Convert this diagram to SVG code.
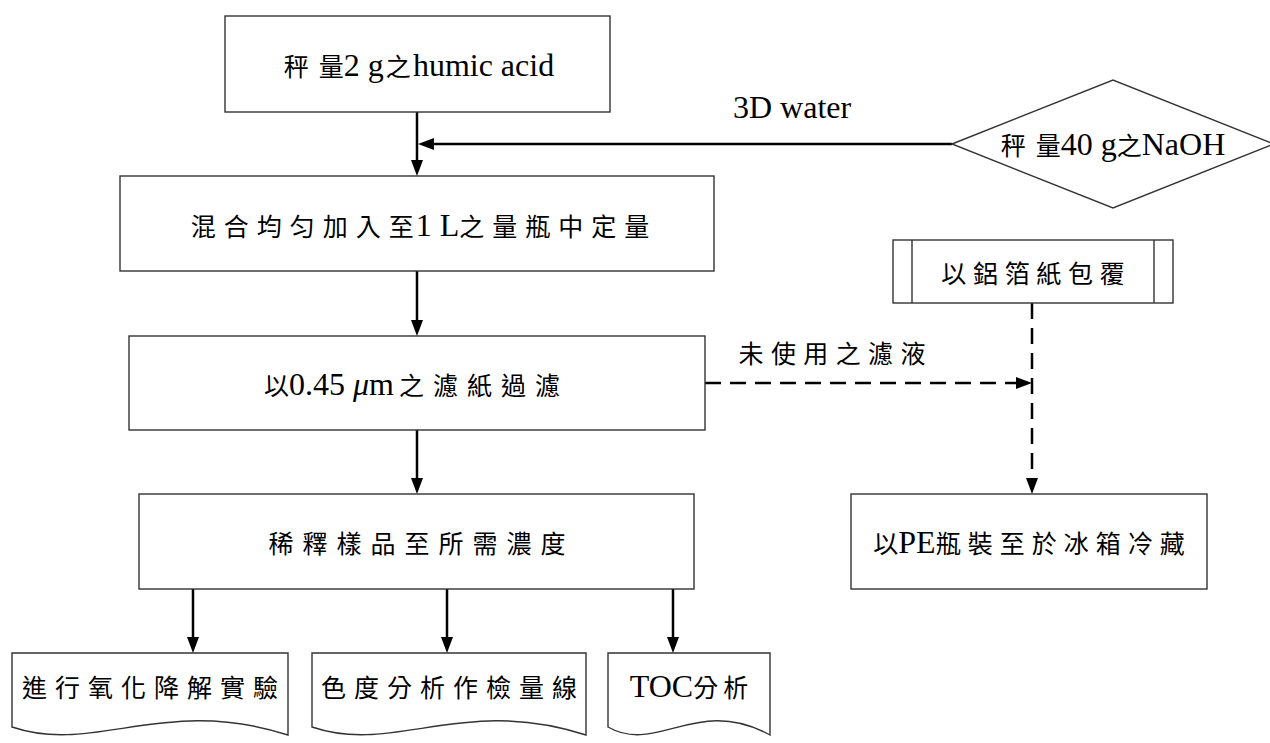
<svg xmlns="http://www.w3.org/2000/svg" width="1270" height="743" viewBox="0 0 1270 743">
<defs>
<style>
.box{fill:#fff;stroke:#333;stroke-width:1.4}
.t{text-anchor:middle}
.c{font-family:"Noto Sans CJK TC","Noto Sans CJK SC",sans-serif;font-size:25px;fill:#000}
.l{font-family:"Liberation Serif",serif;font-size:32px;fill:#000}
.w{stroke:#000;stroke-width:2.5;fill:none}
.d{stroke:#000;stroke-width:2.5;fill:none;stroke-dasharray:16 9}
</style>
<marker id="ah" markerUnits="userSpaceOnUse" markerWidth="16" markerHeight="12" refX="6" refY="6" orient="auto">
<path d="M0,0 L16,6 L0,12 Z" fill="#000"/>
</marker>
</defs>
<rect width="1270" height="743" fill="#fff"/>

<g id="connectors">
<path class="w" d="M417,112 V166" marker-end="url(#ah)"/>
<path class="w" d="M952,144 H428" marker-end="url(#ah)"/>
<path class="w" d="M417,271 V326" marker-end="url(#ah)"/>
<path class="w" d="M417,430 V484" marker-end="url(#ah)"/>
<path class="w" d="M193,589 V643" marker-end="url(#ah)"/>
<path class="w" d="M447,589 V643" marker-end="url(#ah)"/>
<path class="w" d="M673,589 V643" marker-end="url(#ah)"/>
<path class="d" d="M705,383 H1022" marker-end="url(#ah)"/>
<path class="d" d="M1032,303 V484" marker-end="url(#ah)"/>
<text class="l" x="733" y="118">3D water</text>
<text class="t" x="832" y="363"><tspan class="c" letter-spacing="7.4">未使用之濾</tspan><tspan class="c">液</tspan></text>
</g>

<g id="n1">
<rect class="box" x="225" y="16" width="385" height="96"/>
<text class="t" x="419" y="76"><tspan class="c" letter-spacing="10">秤</tspan><tspan class="c">量</tspan><tspan class="l">2 g</tspan><tspan class="c" dx="2">之</tspan><tspan class="l" dx="2">humic acid</tspan></text>
</g>

<g id="n2">
<path class="box" d="M952,144 L1113,80 L1274,144 L1113,208 Z"/>
<text class="t" x="1113" y="155"><tspan class="c" letter-spacing="10">秤</tspan><tspan class="c">量</tspan><tspan class="l">40 g</tspan><tspan class="c">之</tspan><tspan class="l">NaOH</tspan></text>
</g>

<g id="n3">
<rect class="box" x="120" y="176" width="594" height="95"/>
<text class="t" x="420" y="236"><tspan class="c" letter-spacing="8">混合均匀加入</tspan><tspan class="c" letter-spacing="2">至</tspan><tspan class="l">1 L</tspan><tspan class="c" letter-spacing="8">之量瓶中定</tspan><tspan class="c">量</tspan></text>
</g>

<g id="n4">
<rect class="box" x="129" y="336" width="576" height="94"/>
<text class="t" x="412" y="395"><tspan class="c">以</tspan><tspan class="l">0.45 </tspan><tspan class="l" font-style="italic">μ</tspan><tspan class="l">m</tspan><tspan class="c" dx="5" letter-spacing="9">之濾紙過</tspan><tspan class="c">濾</tspan></text>
</g>

<g id="n5">
<rect class="box" x="893" y="240" width="280" height="63"/>
<path d="M912,240 V303 M1154,240 V303" stroke="#333" stroke-width="1.4"/>
<text class="t" x="1033" y="283"><tspan class="c" letter-spacing="6.7">以鋁箔紙包</tspan><tspan class="c">覆</tspan></text>
</g>

<g id="n6">
<rect class="box" x="139" y="494" width="555" height="95"/>
<text class="t" x="417" y="553"><tspan class="c" letter-spacing="9">稀釋樣品至所需濃</tspan><tspan class="c">度</tspan></text>
</g>

<g id="n7">
<rect class="box" x="851" y="494" width="356" height="95"/>
<text class="t" x="1029" y="553"><tspan class="c">以</tspan><tspan class="l">PE</tspan><tspan class="c" letter-spacing="7">瓶裝至於冰箱冷</tspan><tspan class="c">藏</tspan></text>
</g>

<g id="n8">
<path class="box" d="M12,653 H288 V735 C163.8,695 94.8,755 12,727 Z"/>
<text class="t" x="150" y="697"><tspan class="c" letter-spacing="8">進行氧化降解實</tspan><tspan class="c">驗</tspan></text>
</g>

<g id="n9">
<path class="box" d="M312,653 H586 V735 C462.7,695 394.2,755 312,727 Z"/>
<text class="t" x="449" y="697"><tspan class="c" letter-spacing="8">色度分析作檢量</tspan><tspan class="c">線</tspan></text>
</g>

<g id="n10">
<path class="box" d="M608,653 H770 V735 C697.1,695 656.6,755 608,727 Z"/>
<text class="t" x="689" y="697"><tspan class="l">TOC</tspan><tspan class="c" letter-spacing="5">分</tspan><tspan class="c">析</tspan></text>
</g>
</svg>
